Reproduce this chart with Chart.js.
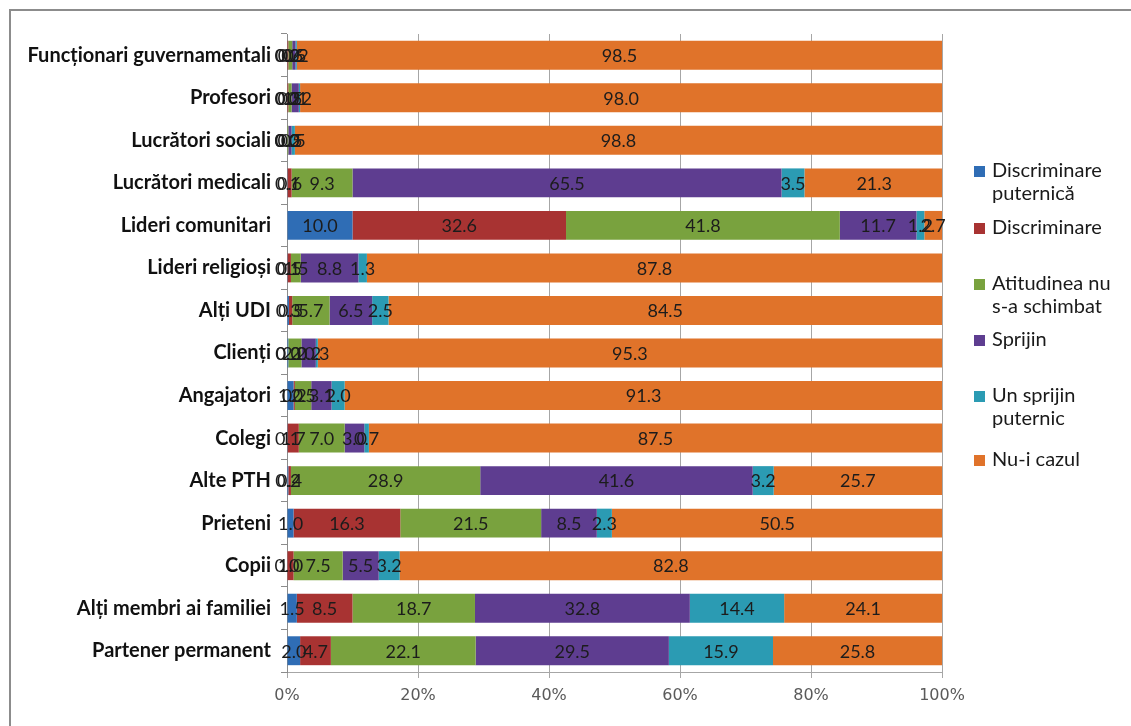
<!DOCTYPE html>
<html>
<head>
<meta charset="utf-8">
<script src="https://cdn.jsdelivr.net/npm/chart.js@4.4.1/dist/chart.umd.min.js"></script>
<style>
  html, body { margin: 0; padding: 0; background: #ffffff; }
  #wrap { position: relative; width: 1131px; height: 726px; overflow: hidden; }
  #frame { position: absolute; left: 9px; top: 9px; width: 1200px; height: 800px;
           border-left: 2px solid #8c8c8c; border-top: 2px solid #8c8c8c; pointer-events: none; }
  canvas { position: absolute; left: 0; top: 0; }
</style>
</head>
<body>
<div id="wrap">
  <canvas id="chart" width="1131" height="726"></canvas>
  <div id="frame"></div>
</div>
<script>
// Groups, listed top to bottom
const categories = [
  'Funcționari guvernamentali', 'Profesori', 'Lucrători sociali', 'Lucrători medicali',
  'Lideri comunitari', 'Lideri religioși', 'Alți UDI', 'Clienți', 'Angajatori',
  'Colegi', 'Alte PTH', 'Prieteni', 'Copii', 'Alți membri ai familiei', 'Partener permanent'
];

// Share of answers (%) for each attitude
const discriminarePuternica = [0.0, 0.0, 0.0, 0.1, 10.0, 0.1, 0.3, 0.2, 1.0, 0.1, 0.2, 1.0, 0.0, 1.5, 2.0];
const discriminare          = [0.2, 0.2, 0.0, 0.6, 32.6, 0.5, 0.5, 0.0, 0.2, 1.7, 0.4, 16.3, 1.0, 8.5, 4.7];
const atitudineaNeschimbata = [0.6, 0.5, 0.2, 9.3, 41.8, 1.5, 5.7, 2.0, 2.5, 7.0, 28.9, 21.5, 7.5, 18.7, 22.1];
const sprijin               = [0.5, 1.1, 0.5, 65.5, 11.7, 8.8, 6.5, 2.2, 3.1, 3.0, 41.6, 8.5, 5.5, 32.8, 29.5];
const sprijinPuternic       = [0.2, 0.2, 0.5, 3.5, 1.2, 1.3, 2.5, 0.3, 2.0, 0.7, 3.2, 2.3, 3.2, 14.4, 15.9];
const nuICazul              = [98.5, 98.0, 98.8, 21.3, 2.7, 87.8, 84.5, 95.3, 91.3, 87.5, 25.7, 50.5, 82.8, 24.1, 25.8];

const seriesNames = [
  ['Discriminare', 'puternică'],
  ['Discriminare'],
  ['Atitudinea nu', 's-a schimbat'],
  ['Sprijin'],
  ['Un sprijin', 'puternic'],
  ['Nu-i cazul']
];
const seriesValues = [discriminarePuternica, discriminare, atitudineaNeschimbata, sprijin, sprijinPuternic, nuICazul];
const seriesColors = ['#2f6db5', '#a83332', '#79a23e', '#5e3d90', '#2b9bb3', '#e0732a'];

const tickLabels = ['0%', '20%', '40%', '60%', '80%', '100%'];

// Legend block on the right: first-line centre of each entry
const legendTops = [171, 228, 284, 340, 396, 460];

const valueLabels = {
  id: 'valueLabels',
  afterDatasetsDraw(chart) {
    const ctx = chart.ctx;
    ctx.save();
    ctx.font = '18px Lato';
    ctx.fillStyle = '#1c1c1c';
    ctx.textAlign = 'center';
    ctx.textBaseline = 'middle';
    chart.data.datasets.forEach((ds, i) => {
      const meta = chart.getDatasetMeta(i);
      meta.data.forEach((bar, j) => {
        const v = ds.data[j];
        const cx = (bar.x + bar.base) / 2;
        ctx.fillText(v.toFixed(1), cx, bar.y + 1);
      });
    });
    ctx.restore();
  }
};

const sideLegend = {
  id: 'sideLegend',
  afterDraw(chart) {
    const ctx = chart.ctx;
    ctx.save();
    ctx.font = '20px Lato';
    ctx.textBaseline = 'middle';
    seriesNames.forEach((lines, i) => {
      const y0 = legendTops[i];
      ctx.fillStyle = seriesColors[i];
      ctx.fillRect(974, y0 - 5, 11, 11);
      ctx.fillStyle = '#1a1a1a';
      lines.forEach((t, k) => ctx.fillText(t, 992, y0 + k * 23));
    });
    ctx.restore();
  }
};

new Chart(document.getElementById('chart'), {
  type: 'bar',
  data: {
    labels: categories,
    datasets: seriesValues.map((vals, i) => ({
      label: seriesNames[i].join(' '),
      data: vals,
      backgroundColor: seriesColors[i],
      borderWidth: 0,
      categoryPercentage: 1,
      barPercentage: 0.68
    }))
  },
  options: {
    indexAxis: 'y',
    responsive: false,
    animation: false,
    events: [],
    layout: { padding: { top: 34, right: 189, left: 0, bottom: 0 } },
    plugins: { legend: { display: false }, tooltip: { enabled: false } },
    scales: {
      x: {
        stacked: true,
        min: 0,
        max: 100,
        afterFit(scale) { scale.height = 54; },
        afterBuildTicks(scale) { scale.ticks = tickLabels.map((t, i) => ({ value: i * 20 })); },
        grid: { color: '#a6a6a6', lineWidth: 1, tickLength: 6, drawTicks: true },
        border: { display: true, color: '#a6a6a6' },
        ticks: {
          padding: 8,
          color: '#5a5a5a',
          font: { family: 'DejaVu Sans', size: 16 },
          callback: (v, i) => tickLabels[i]
        }
      },
      y: {
        stacked: true,
        afterFit(scale) { scale.width = 287; },
        grid: { drawOnChartArea: false, drawTicks: true, tickLength: 6, color: '#8c8c8c', offset: true },
        border: { display: true, color: '#8c8c8c' },
        ticks: {
          padding: 10,
          color: '#111111',
          font: { family: 'Lato', size: 20, weight: 'bold' }
        }
      }
    }
  },
  plugins: [valueLabels, sideLegend]
});
</script>
</body>
</html>
